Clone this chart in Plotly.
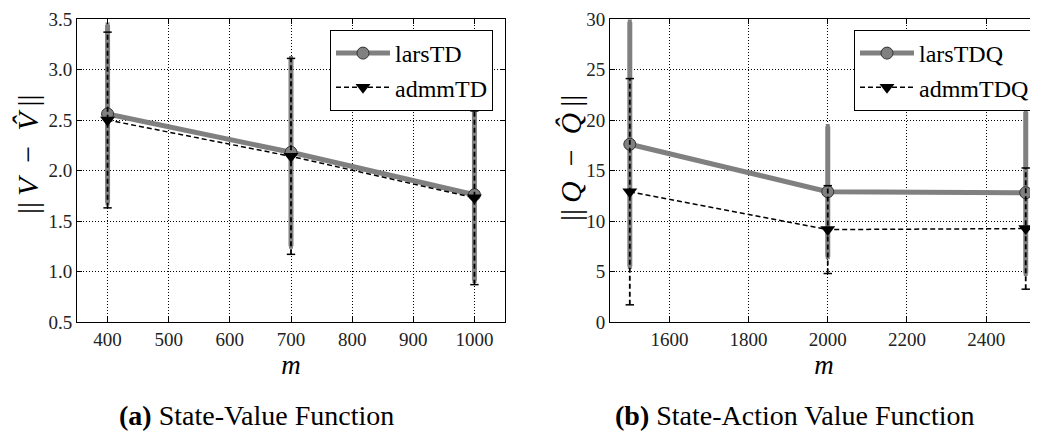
import plotly.graph_objects as go

# ---- data ----
m_a = [400, 700, 1000]
lars_td = [2.56, 2.18, 1.76]
lars_td_err = [0.88, 0.93, 0.85]
admm_td = [2.50, 2.14, 1.73]
admm_td_err = [0.87, 0.97, 0.86]

m_b = [1500, 2000, 2500]
lars_tdq = [17.6, 12.9, 12.8]
lars_tdq_err = [12.1, 6.45, 8.0]
admm_tdq = [12.9, 9.15, 9.25]
admm_tdq_err = [11.2, 4.35, 6.0]

y_ticks_a = [0.5, 1.0, 1.5, 2.0, 2.5, 3.0, 3.5]
x_ticks_a = [400, 500, 600, 700, 800, 900, 1000]
y_ticks_b = [0, 5, 10, 15, 20, 25, 30]
x_ticks_b = [1600, 1800, 2000, 2200, 2400]

# page has 8px body margin -> figure sized to fit the 1038x432 window
W, H = 1030, 424
FONT = "Liberation Serif, Times New Roman, DejaVu Serif, serif"
GREY = "#808080"

fig = go.Figure()


def add_panel(x, lars, lars_err, admm, admm_err, names, xa, ya, legend):
    fig.add_trace(go.Scatter(
        x=x, y=lars, name=names[0], mode="lines+markers",
        line=dict(color=GREY, width=5),
        marker=dict(symbol="circle", size=12, color=GREY,
                    line=dict(color="#333333", width=1)),
        error_y=dict(type="data", array=lars_err, color=GREY,
                     thickness=5, width=2),
        xaxis=xa, yaxis=ya, legend=legend))
    ex, ey = [], []
    for xi, yi, ei in zip(x, admm, admm_err):
        ex += [xi, xi, None]
        ey += [yi - ei, yi + ei, None]
    fig.add_trace(go.Scatter(
        x=ex, y=ey, mode="lines", showlegend=False, hoverinfo="skip",
        line=dict(color="black", width=1.8, dash="5px,3px"),
        xaxis=xa, yaxis=ya))
    cx, cy = [], []
    for xi, yi, ei in zip(x, admm, admm_err):
        cx += [xi, xi]
        cy += [yi - ei, yi + ei]
    fig.add_trace(go.Scatter(
        x=cx, y=cy, mode="markers", showlegend=False, hoverinfo="skip",
        marker=dict(symbol="line-ew", size=6,
                    line=dict(color="black", width=1.5)),
        xaxis=xa, yaxis=ya))
    fig.add_trace(go.Scatter(
        x=x, y=admm, name=names[1], mode="lines+markers",
        line=dict(color="black", width=1.5, dash="5px,3px"),
        marker=dict(symbol="triangle-down", size=13, color="black"),
        xaxis=xa, yaxis=ya, legend=legend))


add_panel(m_a, lars_td, lars_td_err, admm_td, admm_td_err,
          ["larsTD", "admmTD"], "x", "y", "legend")
add_panel(m_b, lars_tdq, lars_tdq_err, admm_tdq, admm_tdq_err,
          ["larsTDQ", "admmTDQ"], "x2", "y2", "legend2")

ydom = [1 - 314 / H, 1 - 11 / H]
axis_common = dict(
    showline=True, linecolor="black", linewidth=1,
    ticks="inside", ticklen=5, tickcolor="black",
    showgrid=True, gridcolor="black", gridwidth=1, griddash="1px,2px",
    zeroline=False, automargin=False,
    tickfont=dict(family=FONT, size=19, color="#222"),
)

legend_common = dict(
    y=1 - 22 / H, yanchor="top", xanchor="right",
    bordercolor="black", borderwidth=1, bgcolor="white",
    font=dict(family=FONT, size=24, color="black"),
    itemwidth=54, tracegroupgap=0,
)

ytitle_a = "||\u2009<i>V</i>\u2002−\u2002<i>V̂</i>\u2009||"
ytitle_b = "||\u2009<i>Q</i>\u2002−\u2002<i>Q̂</i>\u2009||"

fig.update_layout(
    width=W, height=H,
    margin=dict(l=0, r=0, t=0, b=0),
    paper_bgcolor="white", plot_bgcolor="white",
    font=dict(family=FONT, color="black"),
    xaxis=dict(axis_common, domain=[69 / W, 497 / W], range=[350, 1050],
               tickvals=x_ticks_a, mirror="ticks", anchor="y",
               title=dict(text="<i>m</i>", font=dict(size=27, family=FONT), standoff=0)),
    yaxis=dict(axis_common, domain=ydom, range=[0.5, 3.5],
               tickvals=y_ticks_a, tickformat=".1f", mirror="ticks", anchor="x"),
    xaxis2=dict(axis_common, domain=[602 / W, 1.0], range=[1450, 2531],
                tickvals=x_ticks_b, mirror="ticks", anchor="y2",
                title=dict(text="<i>m</i>", font=dict(size=27, family=FONT), standoff=0)),
    yaxis2=dict(axis_common, domain=ydom, range=[0, 30],
                tickvals=y_ticks_b, mirror=False, anchor="x2"),
    legend=dict(legend_common, x=485 / W),
    legend2=dict(legend_common, x=1027 / W),
    showlegend=True,
    annotations=[
        dict(text=ytitle_a, x=19 / W, y=1 - 146 / H, textangle=-90,
             xref="paper", yref="paper", xanchor="center", yanchor="middle",
             showarrow=False, font=dict(family=FONT, size=30, color="black")),
        dict(text=ytitle_b, x=562 / W, y=1 - 150 / H, textangle=-90,
             xref="paper", yref="paper", xanchor="center", yanchor="middle",
             showarrow=False, font=dict(family=FONT, size=30, color="black")),
        dict(text="<b>(a)</b> State-Value Function", x=248 / W, y=1 - 407 / H,
             xref="paper", yref="paper", xanchor="center", yanchor="middle",
             showarrow=False, font=dict(family=FONT, size=28, color="black")),
        dict(text="<b>(b)</b> State-Action Value Function", x=787 / W, y=1 - 407 / H,
             xref="paper", yref="paper", xanchor="center", yanchor="middle",
             showarrow=False, font=dict(family=FONT, size=28, color="black")),
    ],
)

fig.write_html("out.html")
